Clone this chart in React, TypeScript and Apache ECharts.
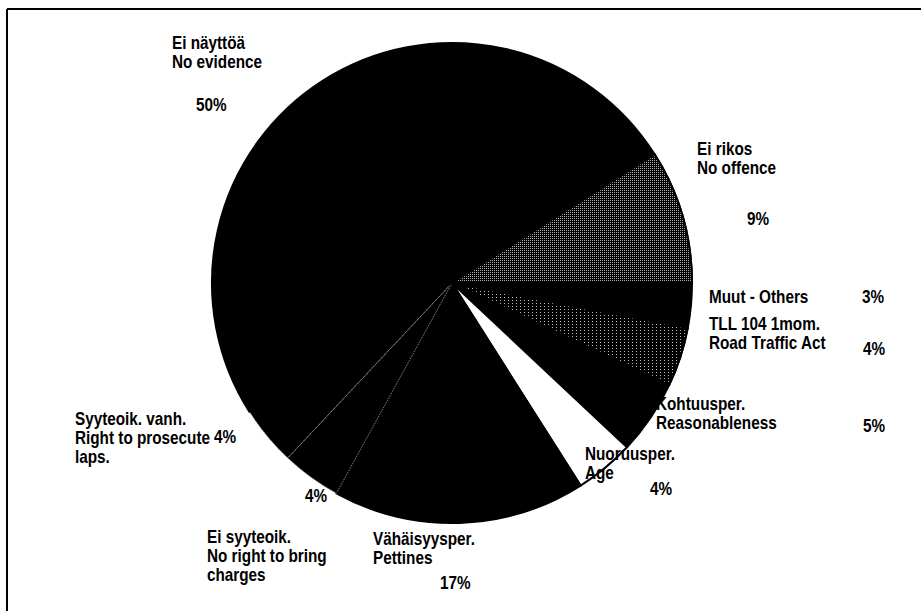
import React, { useEffect, useRef } from "react";
import * as echarts from "echarts";

// Slices listed clockwise starting at 3 o'clock
const sliceNames = [
  "Muut - Others",
  "TLL 104 1mom. / Road Traffic Act",
  "Kohtuusper. / Reasonableness",
  "Nuoruusper. / Age",
  "Vähäisyysper. / Pettines",
  "Ei syyteoik. / No right to bring charges",
  "Syyteoik. vanh. / Right to prosecute laps.",
  "Ei näyttöä / No evidence",
  "Ei rikos / No offence",
];
const sliceValues = [3, 4, 5, 4, 17, 4, 4, 50, 9];
const labelLines = [
  ["Muut - Others"],
  ["TLL 104 1mom.", "Road Traffic Act"],
  ["Kohtuusper.", "Reasonableness"],
  ["Nuoruusper.", "Age"],
  ["Vähäisyysper.", "Pettines"],
  ["Ei syyteoik.", "No right to bring", "charges"],
  ["Syyteoik. vanh.", "Right to prosecute", "laps."],
  ["Ei näyttöä", "No evidence"],
  ["Ei rikos", "No offence"],
];

// layout (positions of label blocks and percent texts)
const labelPos = [
  [709, 288], [709, 315], [656, 395], [585, 445], [373, 530],
  [207, 528], [75, 410], [172, 34], [697, 140],
];
const pctPos = [
  [862, 288], [863, 340], [863, 417], [650, 480], [440, 574],
  [305, 487], [214, 428], [196, 96], [747, 210],
];

const FONT = 'bold 18px "Liberation Sans", Arial, sans-serif';

const sliceStyles: any[] = [
  { color: "#000" },
  {
    color: "#000",
    decal: { symbol: "rect", symbolSize: 1, dashArrayX: [1, 3], dashArrayY: [1, 2], color: "#bdbdbd", rotation: 0 },
  },
  { color: "#000" },
  { color: "#fff" },
  { color: "#000" },
  { color: "#000", borderColor: "#9a9a9a", borderType: "dotted", borderWidth: 1 },
  { color: "#000", borderColor: "#9a9a9a", borderType: "dotted", borderWidth: 1 },
  { color: "#000" },
  {
    color: "#000",
    decal: { symbol: "rect", symbolSize: 1, dashArrayX: [1, 1], dashArrayY: [1, 1], color: "#b0b0b0", rotation: 0 },
  },
];

export default function App() {
  const ref = useRef<HTMLDivElement>(null);
  useEffect(() => {
    document.body.style.margin = "0";
    const chart = echarts.init(ref.current!, null, { renderer: "svg" });

    const graphics: any[] = [
      { type: "line", z: 100, shape: { x1: 7, y1: 9, x2: 921, y2: 9 }, style: { stroke: "#000", lineWidth: 2 } },
      { type: "line", z: 100, shape: { x1: 7, y1: 9, x2: 7, y2: 611 }, style: { stroke: "#000", lineWidth: 2 } },
    ];
    const textEl = (text: string, x: number, y: number) => ({
      type: "text",
      z: 100,
      x,
      y,
      scaleX: 0.85,
      style: { text, font: FONT, fill: "#000", verticalAlign: "top", lineHeight: 19 },
    });
    labelLines.forEach((lines, i) => {
      graphics.push(textEl(lines.join("\n"), labelPos[i][0], labelPos[i][1]));
      graphics.push(textEl(`${sliceValues[i]}%`, pctPos[i][0], pctPos[i][1]));
    });

    chart.setOption({
      animation: false,
      backgroundColor: "#fff",
      series: [
        {
          type: "pie",
          center: [452, 283],
          radius: 240,
          startAngle: 0,
          clockwise: true,
          avoidLabelOverlap: false,
          label: { show: false },
          labelLine: { show: false },
          emphasis: { disabled: true },
          itemStyle: { borderColor: "#000", borderWidth: 2 },
          data: sliceValues.map((v, i) => ({
            name: sliceNames[i],
            value: v,
            itemStyle: sliceStyles[i],
          })),
        },
      ],
      graphic: graphics,
    });
    return () => chart.dispose();
  }, []);
  return <div ref={ref} style={{ width: 921, height: 611 }} />;
}
